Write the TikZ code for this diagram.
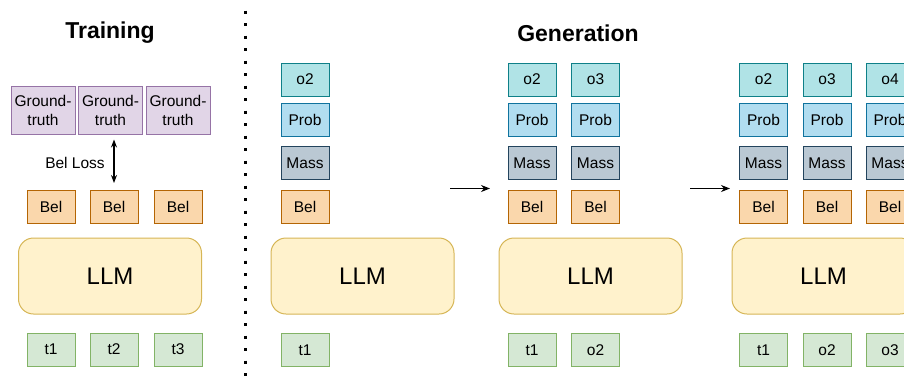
\documentclass[tikz,border=0pt]{standalone}
\usepackage{fontspec}
\setmainfont{Liberation Sans}
\usetikzlibrary{arrows.meta}
\definecolor{gtf}{HTML}{E1D5E7}\definecolor{gtd}{HTML}{9673A6}
\definecolor{belf}{HTML}{FAD7AC}\definecolor{beld}{HTML}{B46504}
\definecolor{llmf}{HTML}{FFF2CC}\definecolor{llmd}{HTML}{D6B656}
\definecolor{tf}{HTML}{D5E8D4}\definecolor{td}{HTML}{82B366}
\definecolor{of}{HTML}{B0E3E6}\definecolor{od}{HTML}{0E8088}
\definecolor{pf}{HTML}{B1DDF0}\definecolor{pd}{HTML}{10739E}
\definecolor{mf}{HTML}{BAC8D3}\definecolor{md}{HTML}{23445D}
\tikzset{
  box/.style={draw, line width=1pt, minimum width=48pt, minimum height=33pt, inner sep=0pt, font=\fontsize{15.5}{18}\selectfont},
  gtbox/.style={box, fill=gtf, draw=gtd, minimum width=64pt, minimum height=48pt, align=center, font=\fontsize{15.5}{19}\selectfont},
  belbox/.style={box, fill=belf, draw=beld},
  tbox/.style={box, fill=tf, draw=td},
  obox/.style={box, fill=of, draw=od},
  probbox/.style={box, fill=pf, draw=pd},
  massbox/.style={box, fill=mf, draw=md},
  llmbox/.style={draw=llmd, fill=llmf, line width=1pt, rounded corners=15pt, minimum width=183pt, minimum height=76pt, font=\fontsize{24}{28}\selectfont},
  title/.style={font=\fontsize{23}{27}\selectfont\bfseries},
  conn/.style={line width=1.3pt, -{Stealth[length=9pt,width=7pt]}}
}
\begin{document}
\begin{tikzpicture}[x=1pt,y=-1pt]
\useasboundingbox (0,0) rectangle (904,381);
\clip (0,0) rectangle (904,381);
% titles
\node[title] (ttrain) at (110,33) {Training};
\node[title] (tgen) at (578,33) {Generation};
% separator
\draw[line width=3pt, dash pattern=on 3pt off 9.5pt] (245,10.5) -- (245,381);
% ---- Training panel
\node[gtbox] (gt1) at (43,110) {Ground-\\truth};
\node[gtbox] (gt2) at (110.5,110) {Ground-\\truth};
\node[gtbox] (gt3) at (178,110) {Ground-\\truth};
\node[belbox] (b11) at (51,207) {Bel};
\node[belbox] (b12) at (114,207) {Bel};
\node[belbox] (b13) at (178,207) {Bel};
\node[llmbox] (llm1) at (110,276) {LLM};
\node[tbox] (t11) at (51,349.5) {t1};
\node[tbox] (t12) at (114,349.5) {t2};
\node[tbox] (t13) at (178,349.5) {t3};
\draw[line width=1.3pt, {Stealth[length=8pt,width=6pt]}-{Stealth[length=8pt,width=6pt]}, shorten <=5pt, shorten >=7pt] (gt2.south -| b12.north) -- (b12.north);
\node[font=\fontsize{15.5}{18}\selectfont] (loss) at (75,163) {Bel Loss};
% ---- Generation panel 1
\node[obox] (o21) at (305,79.5) {o2};
\node[probbox] (p21) at (305,119.5) {Prob};
\node[massbox] (m21) at (305,163) {Mass};
\node[belbox] (b21) at (305,206.5) {Bel};
\node[llmbox] (llm2) at (362.5,276) {LLM};
\node[tbox] (t21) at (305,350) {t1};
% ---- Generation panel 2
\node[obox] (o31) at (532,79.5) {o2};
\node[obox] (o32) at (595.5,79.5) {o3};
\node[probbox] (p31) at (532,119.5) {Prob};
\node[probbox] (p32) at (595.5,119.5) {Prob};
\node[massbox] (m31) at (532,163) {Mass};
\node[massbox] (m32) at (595.5,163) {Mass};
\node[belbox] (b31) at (532,206.5) {Bel};
\node[belbox] (b32) at (595.5,206.5) {Bel};
\node[llmbox] (llm3) at (590.5,276) {LLM};
\node[tbox] (t31) at (532,350) {t1};
\node[tbox] (t32) at (595.5,350) {o2};
% ---- Generation panel 3
\node[obox] (o41) at (763.5,79.5) {o2};
\node[obox] (o42) at (827,79.5) {o3};
\node[obox] (o43) at (890,79.5) {o4};
\node[probbox] (p41) at (763.5,119.5) {Prob};
\node[probbox] (p42) at (827,119.5) {Prob};
\node[probbox] (p43) at (890,119.5) {Prob};
\node[massbox] (m41) at (763.5,163) {Mass};
\node[massbox] (m42) at (827,163) {Mass};
\node[massbox] (m43) at (890,163) {Mass};
\node[belbox] (b41) at (763.5,206.5) {Bel};
\node[belbox] (b42) at (827,206.5) {Bel};
\node[belbox] (b43) at (890,206.5) {Bel};
\node[llmbox] (llm4) at (823.5,276) {LLM};
\node[tbox] (t41) at (763.5,350) {t1};
\node[tbox] (t42) at (827,350) {o2};
\node[tbox] (t43) at (890,350) {o3};
% ---- arrows between panels
\coordinate (a1s) at (450,188.5);
\coordinate (a1e) at (490,188.5);
\coordinate (a2s) at (690,188.5);
\coordinate (a2e) at (730,188.5);
\draw[conn] (a1s) -- (a1e);
\draw[conn] (a2s) -- (a2e);
\end{tikzpicture}
\end{document}
